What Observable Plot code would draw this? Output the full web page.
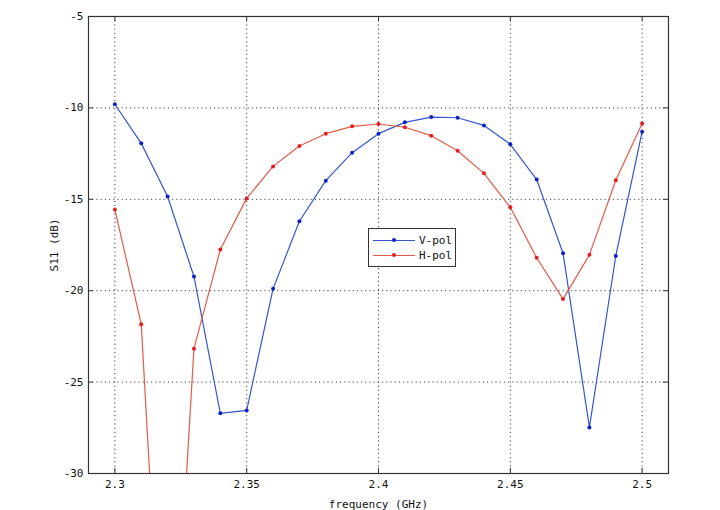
<!DOCTYPE html>
<html>
<head>
<meta charset="utf-8">
<script src="https://cdn.jsdelivr.net/npm/d3@7"></script>
<script src="https://cdn.jsdelivr.net/npm/@observablehq/plot@0.6"></script>
<style>
  html, body { margin: 0; padding: 0; background: #fff; }
  #chart { position: relative; width: 720px; height: 510px; }
  #legend { position: absolute; left: 368px; top: 228px; width: 86px; height: 37px;
    border: 1px solid #333; background: #fff; font-family: "DejaVu Sans Mono", monospace; font-size: 11px; color: #111; }
  .row { position: absolute; left: 4px; height: 14px; display: flex; align-items: center; }
  .sw { position: relative; width: 42px; height: 14px; }
  .sw .ln { position: absolute; left: 0; right: 0; top: 7px; height: 1.2px; }
  .sw .dt { position: absolute; left: 19px; top: 5px; width: 4px; height: 4px; border-radius: 2px; }
  .lab { margin-left: 4px; }
</style>
</head>
<body>
<div id="chart"></div>
<script>
const freq = [2.30, 2.31, 2.32, 2.33, 2.34, 2.35, 2.36, 2.37, 2.38, 2.39, 2.40, 2.41, 2.42, 2.43, 2.44, 2.45, 2.46, 2.47, 2.48, 2.49, 2.50];
const vpol = [-9.8, -11.94, -14.85, -19.22, -26.71, -26.55, -19.9, -16.2, -13.98, -12.45, -11.41, -10.79, -10.5, -10.54, -10.96, -11.99, -13.92, -17.95, -27.48, -18.1, -11.3];
const hpol = [-15.56, -21.83, -47.5, -23.17, -17.75, -14.95, -13.2, -12.08, -11.41, -11.01, -10.88, -11.06, -11.52, -12.34, -13.58, -15.44, -18.2, -20.46, -18.04, -13.96, -10.86];
const seriesNames = ["V-pol", "H-pol"];
const lineColors = ["#3556d0", "#e35a47"];
const dotColors = ["#1020c0", "#e02020"];
const xTicks = [2.3, 2.35, 2.4, 2.45, 2.5];
const yTicks = [-30, -25, -20, -15, -10, -5];
const xDomain = [2.29, 2.51];
const yDomain = [-30, -5];

const data = [];
freq.forEach((f, i) => {
  data.push({f, s: vpol[i], name: seriesNames[0]});
  data.push({f, s: hpol[i], name: seriesNames[1]});
});

const W = 720, H = 510;
const mL = 88, mR = 52, mT = 16, mB = 37;
const pw = W - mL - mR, ph = H - mT - mB;
const font = "DejaVu Sans Mono, monospace";

const chart = Plot.plot({
  width: W, height: H,
  marginLeft: mL, marginRight: mR, marginTop: mT, marginBottom: mB,
  style: {fontFamily: font, fontSize: "11px", color: "#111", background: "#fff"},
  x: {domain: xDomain, ticks: xTicks},
  y: {domain: yDomain, ticks: yTicks},
  color: {domain: seriesNames, range: lineColors},
  marks: [
    Plot.ruleX(xTicks, {x: d => d, stroke: "#444", strokeDasharray: "1.2,3", strokeWidth: 1}),
    Plot.ruleY(yTicks, {y: d => d, stroke: "#444", strokeDasharray: "1.2,3", strokeWidth: 1}),
    Plot.line(data, {x: "f", y: "s", z: "name", stroke: "name", strokeWidth: 1.2, clip: true}),
    Plot.dot(data, {x: "f", y: "s", fill: d => dotColors[seriesNames.indexOf(d.name)], r: 2, clip: true}),
    Plot.tickX(xTicks, {x: d => d, insetTop: ph - 5, stroke: "#333"}),
    Plot.tickX(xTicks, {x: d => d, insetBottom: ph - 5, stroke: "#333"}),
    Plot.tickY(yTicks, {y: d => d, insetRight: pw - 5, stroke: "#333"}),
    Plot.tickY(yTicks, {y: d => d, insetLeft: pw - 5, stroke: "#333"}),
    Plot.frame({stroke: "#333", strokeWidth: 1.2}),
    Plot.axisX(xTicks, {tickSize: 0, tickPadding: 7, tickFormat: d => String(+d.toFixed(2)),
      label: "frequency (GHz)", labelAnchor: "center", labelArrow: "none", labelOffset: 34}),
    Plot.axisY(yTicks, {tickSize: 0, tickPadding: 5, tickFormat: d => String(d),
      label: "S11 (dB)", labelAnchor: "center", labelArrow: "none", labelOffset: 38})
  ]
});
document.getElementById("chart").appendChild(chart);

const legend = document.createElement("div");
legend.id = "legend";
seriesNames.forEach((n, i) => {
  const row = document.createElement("div");
  row.className = "row";
  row.style.top = (4 + i * 15) + "px";
  row.innerHTML = `<div class="sw"><div class="ln" style="background:${lineColors[i]}"></div><div class="dt" style="background:${dotColors[i]}"></div></div><span class="lab">${n}</span>`;
  legend.appendChild(row);
});
document.getElementById("chart").appendChild(legend);
</script>
</body>
</html>
